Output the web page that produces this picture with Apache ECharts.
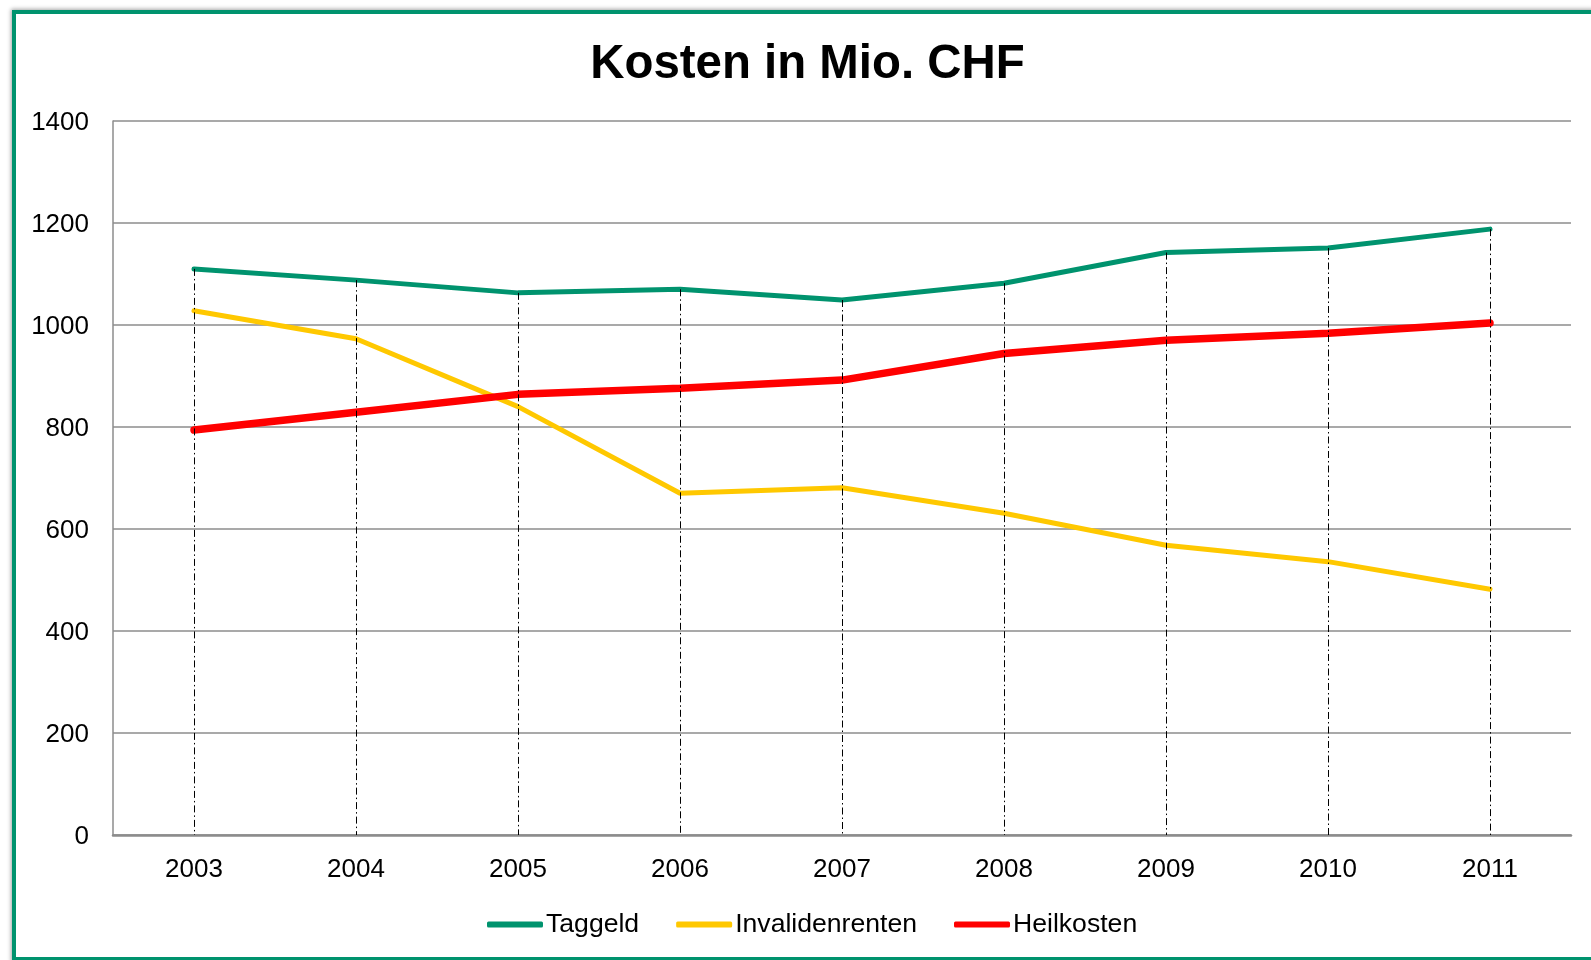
<!DOCTYPE html>
<html>
<head>
<meta charset="utf-8">
<script src="https://cdn.jsdelivr.net/npm/echarts@6/dist/echarts.min.js"></script>
<style>
html,body{margin:0;padding:0;background:#fff;overflow:hidden;width:1591px;height:960px;}
#frame{position:absolute;left:12px;top:10px;width:1640px;height:943px;border:4px solid #00936E;box-shadow:0 0 4px 1px rgba(0,0,0,0.35);box-sizing:content-box;}
#chart{position:absolute;left:0;top:0;width:1615px;height:960px;}
</style>
</head>
<body>
<div id="frame"></div>
<div id="chart"></div>
<script>
const years = ['2003','2004','2005','2006','2007','2008','2009','2010','2011'];
const taggeld = [1110, 1088, 1063, 1070, 1049, 1082, 1142, 1151, 1188];
const invalidenrenten = [1028, 973, 840, 670, 681, 631, 568, 536, 482];
const heilkosten = [794, 829, 864, 876, 892, 944, 970, 984, 1004];
const yTicks = [0, 200, 400, 600, 800, 1000, 1200, 1400];

const dropTop = years.map((y, i) => Math.max(taggeld[i], invalidenrenten[i], heilkosten[i]));

const chart = echarts.init(document.getElementById('chart'));
chart.setOption({
  animation: false,
  backgroundColor: 'transparent',
  textStyle: { fontFamily: 'Liberation Sans, Arial, sans-serif', color: '#000' },
  title: {
    text: 'Kosten in Mio. CHF',
    left: 'center',
    top: 41,
    padding: 0,
    textStyle: { fontSize: 47.4, fontWeight: 'bold', color: '#000', fontFamily: 'Liberation Sans, Arial, sans-serif' }
  },
  legend: {
    data: ['Taggeld', 'Invalidenrenten', 'Heilkosten'],
    left: 487,
    top: 911,
    padding: 0,
    itemWidth: 56,
    itemHeight: 6,
    itemGap: 37,
    icon: 'roundRect',
    textStyle: { fontSize: 26.6, color: '#000', padding: [0, 0, 0, -2] }
  },
  grid: { left: 113, right: 44, top: 121, bottom: 125, containLabel: false },
  xAxis: {
    type: 'category',
    data: years,
    boundaryGap: true,
    axisLine: { lineStyle: { color: '#8c8c8c', width: 2.5 } },
    axisTick: { show: false },
    axisLabel: { fontSize: 26, color: '#000', margin: 22 },
    splitLine: { show: false }
  },
  yAxis: {
    type: 'value',
    min: yTicks[0],
    max: yTicks[yTicks.length - 1],
    interval: 200,
    axisLine: { show: true, lineStyle: { color: '#8c8c8c', width: 1.5 } },
    axisTick: { show: false },
    axisLabel: { fontSize: 26, color: '#000', margin: 24, verticalAlign: 'top', lineHeight: 4, formatter: (v) => String(v) },
    splitLine: { lineStyle: { color: '#8c8c8c', width: 1.5 } }
  },
  series: [
    {
      name: 'drop',
      type: 'line',
      data: [],
      z: 1,
      silent: true,
      markLine: {
        silent: true,
        symbol: ['none', 'none'],
        label: { show: false },
        lineStyle: { color: '#000', width: 1, type: [7, 3, 1.5, 3] },
        data: years.map((y, i) => [{ coord: [i, dropTop[i]] }, { coord: [i, 0] }])
      }
    },
    {
      name: 'Taggeld',
      type: 'line',
      data: taggeld,
      z: 3,
      showSymbol: false,
      symbol: 'none',
      color: '#00936E',
      lineStyle: { color: '#00936E', width: 5, cap: 'round' }
    },
    {
      name: 'Invalidenrenten',
      type: 'line',
      data: invalidenrenten,
      z: 3,
      showSymbol: false,
      symbol: 'none',
      color: '#FFC800',
      lineStyle: { color: '#FFC800', width: 5, cap: 'round' }
    },
    {
      name: 'Heilkosten',
      type: 'line',
      data: heilkosten,
      z: 4,
      showSymbol: false,
      symbol: 'none',
      color: '#FF0000',
      lineStyle: { color: '#FF0000', width: 7.5, cap: 'round' }
    }
  ]
});
</script>
</body>
</html>
